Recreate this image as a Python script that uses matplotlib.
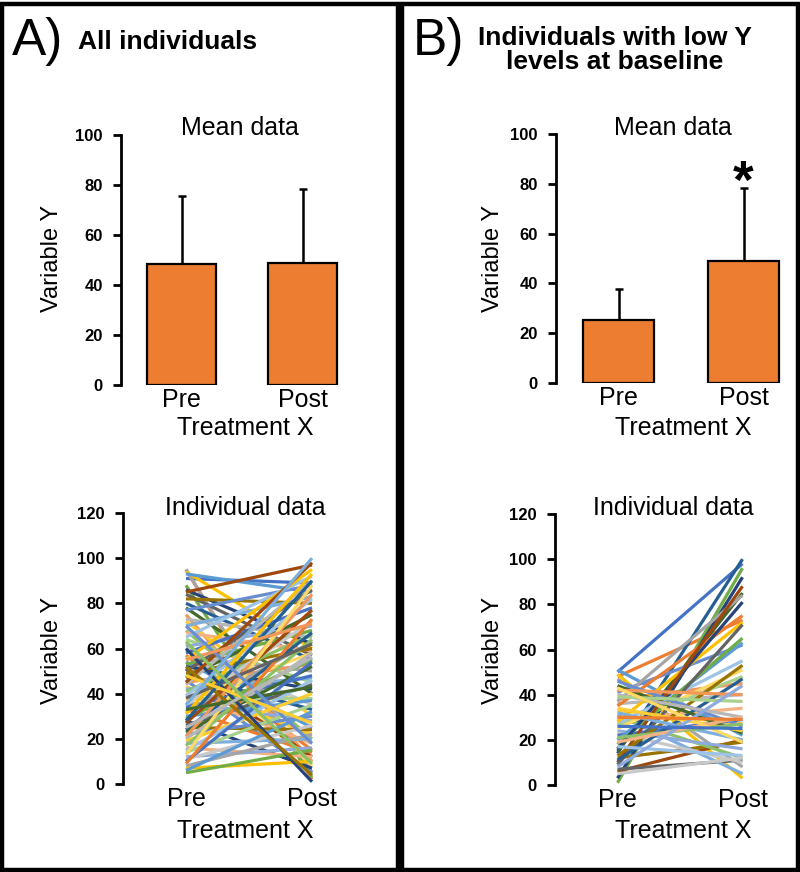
import matplotlib.pyplot as plt
from matplotlib.patches import Rectangle

plt.rcParams['font.family'] = ['Liberation Sans', 'DejaVu Sans']

W, H = 800, 872

categories = ['Pre', 'Post']

# mean data (bar height, upper error bar)
mean_a = [48.5, 48.7]
sd_a = [27.0, 29.5]
mean_b = [25.3, 49.0]
sd_b = [12.5, 29.5]

# individual data, panel A (all individuals)
pre_a = [91, 95, 95, 94, 93, 88, 86, 85, 84, 82, 80, 78, 77, 75, 73, 72, 70, 68, 67, 65,
         64, 62, 61, 60, 58, 57, 56, 55, 54, 53, 52, 51, 50, 49, 48, 47, 46, 45, 44, 43,
         42, 41, 40, 39, 38, 37, 36, 35, 34, 33, 32, 31, 30, 29, 28, 27, 26, 25, 24, 23,
         22, 21, 20, 19, 18, 17, 16, 15, 14, 13, 12, 11, 10, 9, 8, 7, 6, 5, 60, 45,
         38, 52, 28, 33, 70, 55, 25, 48, 35, 63]
post_a = [89, 2, 5, 60, 85, 3, 62, 97, 57, 80, 55, 40, 88, 10, 65, 30, 83, 20, 59, 92,
          45, 8, 70, 35, 78, 15, 50, 95, 25, 68, 42, 12, 86, 60, 33, 75, 5, 53, 90, 22,
          47, 66, 18, 82, 38, 58, 28, 72, 48, 14, 63, 93, 37, 55, 7, 77, 44, 24, 67, 52,
          30, 84, 58, 40, 20, 64, 12, 46, 35, 88, 16, 26, 54, 73, 22, 10, 32, 15, 1, 98,
          62, 4, 90, 43, 18, 71, 56, 27, 100, 9]

# individual data, panel B (low Y at baseline)
pre_b = [50, 48, 47, 49, 51, 1, 3, 6, 7, 12, 14, 15, 41, 38, 36, 33, 31, 30, 29, 27,
         26, 25, 24, 23, 22, 35, 37, 28, 20, 18, 16, 10, 9, 13, 11, 44, 46, 42, 40, 34,
         32, 21, 19, 17, 39, 43, 8, 5, 26, 30]
post_b = [98, 73, 8, 3, 22, 96, 92, 20, 11, 19, 100, 85, 62, 45, 40, 27, 5, 12, 34, 55,
          48, 51, 16, 10, 29, 75, 84, 72, 63, 65, 81, 88, 71, 53, 47, 23, 26, 40, 30, 24,
          20, 27, 30, 13, 37, 19, 44, 12, 25, 29]

palette = ['#4472C4', '#ED7D31', '#A5A5A5', '#FFC000', '#5B9BD5', '#70AD47',
           '#264478', '#9E480E', '#636363', '#997300', '#255E91', '#43682B',
           '#698ED0', '#F1975A', '#B7B7B7', '#FFCD33', '#7CAFDD', '#8CC168',
           '#F4B183', '#9DC3E6', '#A9D18E', '#FFD966', '#8FAADC', '#C9C9C9']


def px_axes(fig, x0, y_top, x1, y_bot):
    return fig.add_axes([x0 / W, 1 - y_bot / H, (x1 - x0) / W, (y_bot - y_top) / H])


def style_axis(ax, ymax, step):
    for s in ['top', 'right', 'bottom']:
        ax.spines[s].set_visible(False)
    ax.spines['left'].set_linewidth(2)
    ax.set_xlim(-0.5, 1.5)
    ax.set_ylim(0, ymax)
    ax.set_yticks(range(0, ymax + 1, step))
    ax.tick_params(axis='y', length=6, width=2, labelsize=12, pad=7)
    for lab in ax.get_yticklabels():
        lab.set_fontweight('bold')
    ax.set_xticks([0, 1])
    ax.set_xticklabels(categories, fontsize=18)
    ax.tick_params(axis='x', length=0, pad=2)
    ax.patch.set_alpha(0)


def bar_panel(ax, means, sds):
    ax.bar([0, 1], means, width=0.57, color='#ED7D31', edgecolor='black', linewidth=1.6, zorder=2)
    ax.errorbar([0, 1], means, yerr=[[0, 0], sds], fmt='none', ecolor='black',
                elinewidth=1.8, capsize=3, capthick=1.8, zorder=1)
    style_axis(ax, 100, 20)


def line_panel(ax, pre, post):
    for i, (a, b) in enumerate(zip(pre, post)):
        ax.plot([0, 1], [a, b], color=palette[i % len(palette)], lw=2.3, solid_capstyle='butt')
    style_axis(ax, 120, 20)


fig = plt.figure(figsize=(W / 100, H / 100), dpi=100)

# panel borders
for x0 in [2, 402]:
    fig.patches.append(Rectangle((x0 / W, 2 / H), 396 / W, 866 / H, transform=fig.transFigure,
                                 fill=False, edgecolor='black', linewidth=3.2))

# panel A
ax1 = px_axes(fig, 121, 135, 363, 385)
bar_panel(ax1, mean_a, sd_a)
ax2 = px_axes(fig, 123, 513, 375, 784)
line_panel(ax2, pre_a, post_a)

# panel B
ax3 = px_axes(fig, 556, 134, 806, 383)
bar_panel(ax3, mean_b, sd_b)
ax3.text(1, 80, '*', ha='center', va='center', fontsize=38, fontweight='bold')
ax4 = px_axes(fig, 555, 514, 805, 785)
line_panel(ax4, pre_b, post_b)


def ftext(x, y, s, **kw):
    fig.text(x / W, 1 - y / H, s, **kw)


ftext(12, 42, 'A)', fontsize=37, ha='left', va='center')
ftext(78, 42, 'All individuals', fontsize=19, fontweight='bold', ha='left', va='center')
ftext(413, 42, 'B)', fontsize=37, ha='left', va='center')
ftext(615, 50, 'Individuals with low Y\nlevels at baseline', fontsize=19, fontweight='bold',
      ha='center', va='center', linespacing=1.05)

ftext(240, 128, 'Mean data', fontsize=18, ha='center', va='center')
ftext(245, 508, 'Individual data', fontsize=18, ha='center', va='center')
ftext(673, 128, 'Mean data', fontsize=18, ha='center', va='center')
ftext(673, 508, 'Individual data', fontsize=18, ha='center', va='center')

ftext(245, 428, 'Treatment X', fontsize=18, ha='center', va='center')
ftext(245, 831, 'Treatment X', fontsize=18, ha='center', va='center')
ftext(683, 428, 'Treatment X', fontsize=18, ha='center', va='center')
ftext(683, 831, 'Treatment X', fontsize=18, ha='center', va='center')

for x, y in [(52, 258), (52, 650), (493, 258), (493, 650)]:
    ftext(x, y, 'Variable Y', fontsize=17, rotation=90, ha='center', va='center')

fig.savefig('out.png', dpi=100)
